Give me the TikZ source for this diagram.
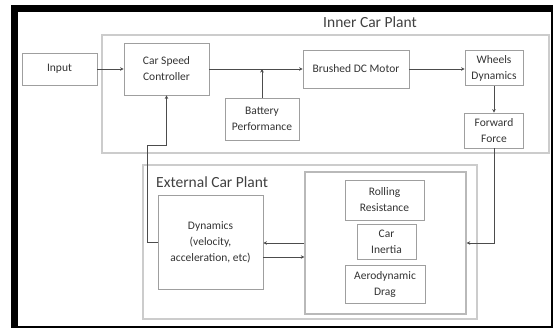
\documentclass[tikz,border=0pt]{standalone}
\usepackage{fontspec}
\setmainfont{Carlito}
\usetikzlibrary{arrows.meta,calc}
\begin{document}
\begin{tikzpicture}[x=1pt,y=-1pt,
  blk/.style={draw=gray!75,line width=0.8pt,align=center,inner sep=0pt,
    font=\fontsize{11.5}{16}\selectfont,text=black!80},
  plant/.style={draw=gray!40,line width=2.6pt},
  grpbox/.style={draw=gray!55,line width=1.4pt,inner sep=0pt},
  conn/.style={draw=black!70,line width=0.8pt},
  arr/.style={conn,-{Stealth[length=3.5pt,width=3.5pt]}},
  ttl/.style={font=\fontsize{15.5}{18}\selectfont,text=black!75,inner sep=0pt}]
\useasboundingbox (0,0) rectangle (554,329);
% frame
\fill[black] (11,5) rectangle (553,12);
\fill[black] (11,5) rectangle (18,328);
\fill[black] (551,5) rectangle (553,328);
\fill[black] (11,326) rectangle (553,328);
% plants
\draw[plant] (102,35) rectangle (549,153);
\node[ttl] (innert) at (370,22) {Inner Car Plant};
\draw[plant] (143,165) rectangle (477,319);
\node[ttl,anchor=west] (extt) at (156,182) {External Car Plant};
\node[grpbox,minimum width=161pt,minimum height=142pt] (grp) at (385.5,243) {};
% blocks
\node[blk,minimum width=75pt,minimum height=32pt] (input) at (59.5,69) {Input};
\node[blk,minimum width=85pt,minimum height=52pt] (ctrl) at (166.5,69) {Car Speed\\Controller};
\node[blk,minimum width=106pt,minimum height=38pt] (motor) at (356,69) {Brushed DC Motor};
\node[blk,minimum width=74pt,minimum height=42pt] (batt) at (262,119) {Battery\\Performance};
\node[blk,minimum width=58pt,minimum height=35pt] (wheels) at (494,68) {Wheels\\Dynamics};
\node[blk,minimum width=59pt,minimum height=35pt] (force) at (494,130.5) {Forward\\Force};
\node[blk,minimum width=105pt,minimum height=94pt] (dyn) at (210.5,242) {Dynamics\\(velocity,\\acceleration, etc)};
\node[blk,minimum width=79pt,minimum height=40pt] (roll) at (384.5,200) {Rolling\\Resistance};
\node[blk,minimum width=59pt,minimum height=35pt] (inertia) at (386.5,241.5) {Car\\Inertia};
\node[blk,minimum width=80pt,minimum height=38pt] (aero) at (385,284) {Aerodynamic\\Drag};
\coordinate (fb) at (147,145);
% connectors
\draw[arr] (input.east) -- (ctrl.west);
\draw[arr] (ctrl.east) -- (motor.west);
\draw[arr] (batt.north) -- (batt.north |- motor.west);
\draw[arr] (motor.east) -- (motor.east -| wheels.west);
\draw[arr] (wheels.south) -- (force.north);
\draw[arr] (force.south) -- (force.south |- grp.east) -- (grp.east);
\draw[arr] (grp.west) -- (grp.west -| dyn.east);
\draw[arr] ([yshift=-15pt]dyn.east) -- ([yshift=-15pt]dyn.east -| grp.west);
\draw[arr] (dyn.west) -- (dyn.west -| fb) -- (fb) -- (fb -| ctrl.south) -- (ctrl.south);
\end{tikzpicture}
\end{document}
